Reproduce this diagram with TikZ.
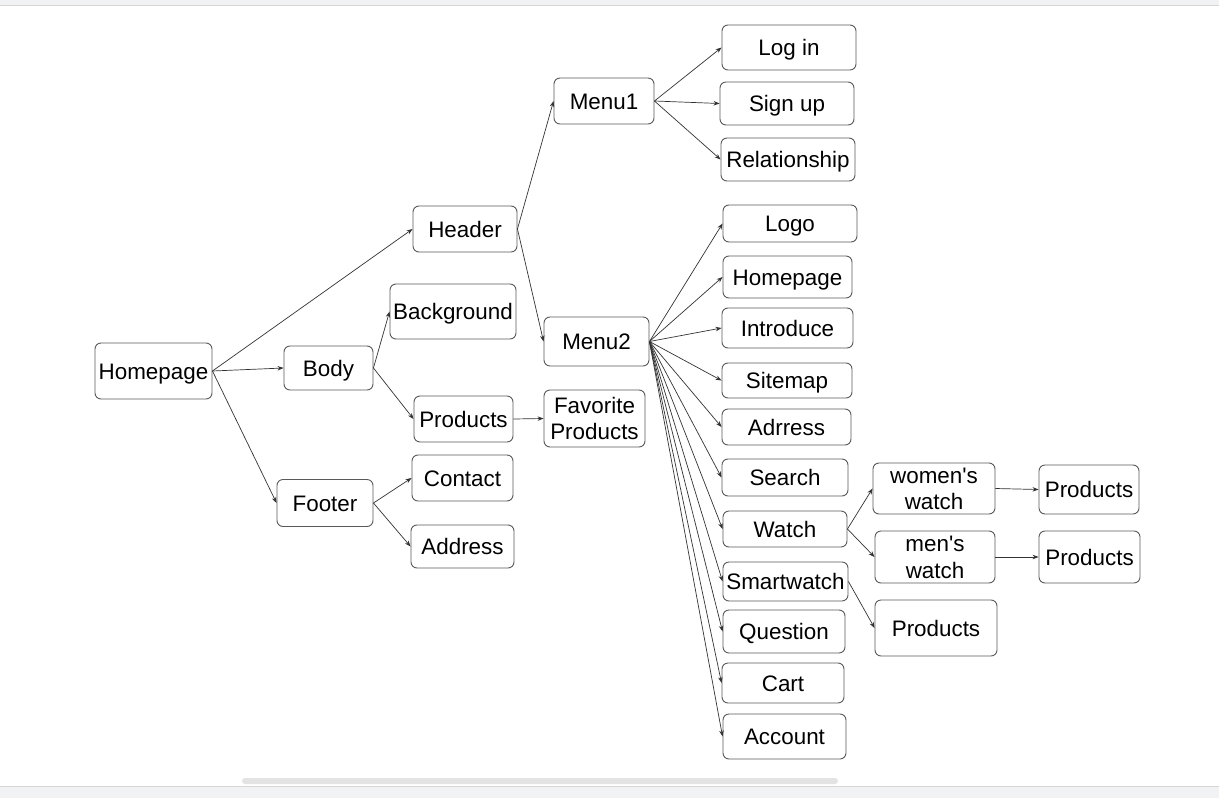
\documentclass[tikz,border=0pt]{standalone}
\usepackage{fontspec}
\setmainfont{Liberation Sans}
\newfontfamily\plainsans{Liberation Sans}
\usetikzlibrary{arrows.meta}
\definecolor{boxline}{HTML}{5A5A5A}
\definecolor{edgeline}{HTML}{333333}
\definecolor{barfill}{HTML}{F1F2F4}
\definecolor{barline}{HTML}{D6D6D6}
\definecolor{scroll}{HTML}{E3E3E3}
\tikzset{
  box/.style={draw=boxline, line width=0.9pt, rounded corners=6pt, inner sep=0pt,
    align=center, font=\plainsans\fontsize{22.4}{26.5}\selectfont, text=black,
    text height=16pt, text depth=0pt},
  twoline/.style={text height=42.5pt},
  link/.style={draw=edgeline, line width=0.7pt, -{Stealth[length=6pt,width=4.5pt]}},
}
\newcommand{\bx}[7]{\node[box, minimum width=#4, minimum height=#5, #7] (#1) at (#2,#3) {#6};}
\begin{document}
\begin{tikzpicture}[x=1pt,y=-1pt]
\useasboundingbox (0,0) rectangle (1219,798);
\fill[white] (0,0) rectangle (1219,798);
\fill[barfill] (0,0) rectangle (1219,5);
\draw[barline, line width=1pt] (0,5.5) -- (1219,5.5);
\fill[barfill] (0,786) rectangle (1219,798);
\draw[barline, line width=1pt] (0,786) -- (1219,786);
\fill[scroll, rounded corners=3pt] (242,778) rectangle (838,784);

\bx{home}{153.5}{371}{117}{56}{Homepage}{}
\bx{header}{465}{229}{104}{46}{Header}{}
\bx{body}{328.5}{368}{89}{44}{Body}{}
\bx{footer}{325}{503}{96}{47}{Footer}{}
\bx{bg}{453}{311.5}{126}{55}{Background}{}
\bx{prod}{463.5}{419}{99}{46}{Products}{}
\bx{contact}{462.5}{478}{101}{46}{Contact}{}
\bx{address}{462.5}{546.5}{103}{43}{Address}{}
\bx{menu1}{604}{101}{100}{46}{Menu1}{}
\bx{menu2}{596.5}{341.5}{105}{49}{Menu2}{}
\bx{fav}{594.5}{418.5}{101}{57}{Favorite\\Products}{twoline}
\bx{login}{789}{47.5}{134}{45}{Log in}{}
\bx{signup}{787}{103.5}{134}{43}{Sign up}{}
\bx{rel}{788}{159.5}{134}{43}{Relationship}{}
\bx{logo}{790}{223.5}{134}{37}{Logo}{}
\bx{hp}{787.5}{277}{129}{42}{Homepage}{}
\bx{intro}{787.5}{328}{131}{40}{Introduce}{}
\bx{sitemap}{787}{380.5}{130}{35}{Sitemap}{}
\bx{adr}{786.5}{427}{129}{36}{Adrress}{}
\bx{search}{785}{477.5}{126}{37}{Search}{}
\bx{watch}{785}{529}{124}{36}{Watch}{}
\bx{smart}{785.5}{581.5}{125}{39}{Smartwatch}{}
\bx{question}{784}{631.5}{122}{43}{Question}{}
\bx{cart}{783}{683}{122}{40}{Cart}{}
\bx{account}{784.5}{736.5}{123}{45}{Account}{}
\bx{women}{934}{488.5}{122}{51}{women's\\watch}{twoline}
\bx{men}{935}{557}{120}{52}{men's\\watch}{twoline}
\bx{sprod}{936}{628}{122}{56}{Products}{}
\bx{wprod}{1089}{489.5}{100}{49}{Products}{}
\bx{mprod}{1089.5}{557}{101}{52}{Products}{}

\draw[link] (home.east) -- (header.west);
\draw[link] (home.east) -- (body.west);
\draw[link] (home.east) -- (footer.west);
\draw[link] (body.east) -- (bg.west);
\draw[link] (body.east) -- (prod.west);
\draw[link] (prod.east) -- (fav.west);
\draw[link] (footer.east) -- (contact.west);
\draw[link] (footer.east) -- (address.west);
\draw[link] (header.east) -- (menu1.west);
\draw[link] (header.east) -- (menu2.west);
\foreach \t in {login,signup,rel} \draw[link] (menu1.east) -- (\t.west);
\foreach \t in {logo,hp,intro,sitemap,adr,search,watch,smart,question,cart,account}
  \draw[link] (menu2.east) -- (\t.west);
\draw[link] (watch.east) -- (women.west);
\draw[link] (watch.east) -- (men.west);
\draw[link] (smart.east) -- (sprod.west);
\draw[link] (women.east) -- (wprod.west);
\draw[link] (men.east) -- (mprod.west);
\end{tikzpicture}
\end{document}
